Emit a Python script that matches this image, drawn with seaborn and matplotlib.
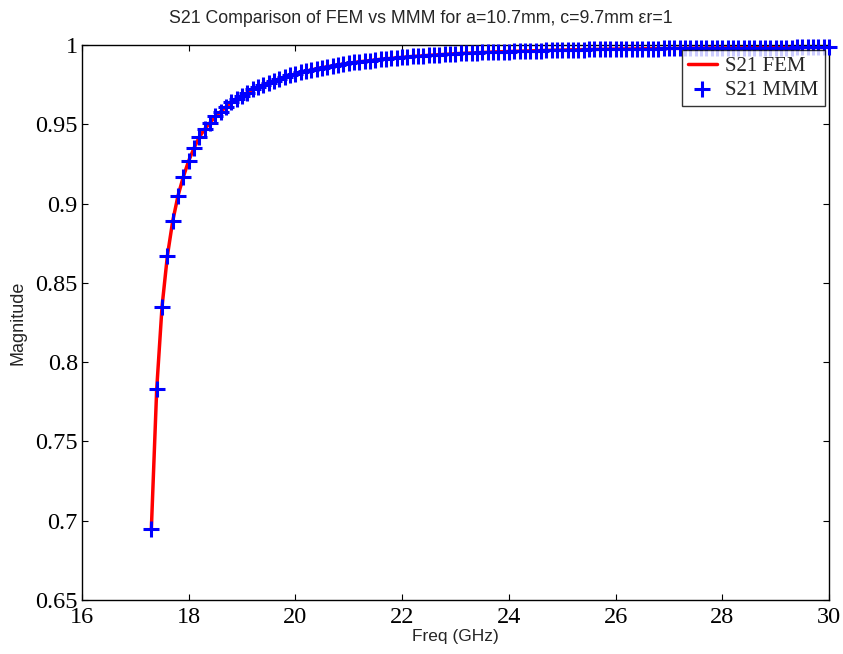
import numpy as np
import pandas as pd
import matplotlib
matplotlib.use("Agg")
import matplotlib.pyplot as plt
import seaborn as sns

# Frequency points (GHz), 17.3 .. 30.0 step 0.1
freq = [round(17.3 + 0.1 * i, 1) for i in range(128)]

# S21 magnitude
s21 = [
    0.695, 0.783, 0.835, 0.867, 0.889, 0.905, 0.917, 0.927, 0.935, 0.942,
    0.947, 0.951, 0.955, 0.958, 0.961, 0.964, 0.966, 0.968, 0.970, 0.972,
    0.9735, 0.975, 0.9763, 0.9775, 0.9787, 0.9798, 0.9808, 0.9818, 0.9827, 0.9835,
    0.9843, 0.9850, 0.9857, 0.9863, 0.9869, 0.9875, 0.9880, 0.9885, 0.9890, 0.9894,
    0.9898, 0.9902, 0.9906, 0.9910, 0.9913, 0.9916, 0.9919, 0.9922, 0.9925, 0.9928,
    0.9930, 0.9932, 0.9935, 0.9937, 0.9939, 0.9941, 0.9943, 0.9945, 0.9947, 0.9948,
    0.9950, 0.9951, 0.9953, 0.9954, 0.9956, 0.9957, 0.9958, 0.9959, 0.9960, 0.9961,
    0.9962, 0.9963, 0.9964, 0.9965, 0.9966, 0.9967, 0.9968, 0.9968, 0.9969, 0.9970,
    0.9970, 0.9971, 0.9972, 0.9972, 0.9973, 0.9973, 0.9974, 0.9974, 0.9975, 0.9975,
    0.9975, 0.9976, 0.9976, 0.9977, 0.9977, 0.9977, 0.9978, 0.9978, 0.9979, 0.9979,
    0.9979, 0.9980, 0.9980, 0.9980, 0.9981, 0.9981, 0.9981, 0.9981, 0.9982, 0.9982,
    0.9982, 0.9982, 0.9983, 0.9983, 0.9983, 0.9983, 0.9984, 0.9984, 0.9984, 0.9984,
    0.9984, 0.9985, 0.9985, 0.9985, 0.9985, 0.9985, 0.9985, 0.9985,
]

x_ticks = [16, 18, 20, 22, 24, 26, 28, 30]
y_ticks = [0.65, 0.7, 0.75, 0.8, 0.85, 0.9, 0.95, 1.0]
y_tick_labels = ["0.65", "0.7", "0.75", "0.8", "0.85", "0.9", "0.95", "1"]

title = "S21 Comparison of FEM vs MMM for a=10.7mm, c=9.7mm \u03b5r=1"

sns.set_theme(style="white")
plt.rcParams["font.family"] = ["Liberation Sans", "DejaVu Sans"]

df = pd.DataFrame({"freq": freq, "s21": s21})

fig = plt.figure(figsize=(8.43, 6.54), dpi=100)
ax = fig.add_axes([82 / 843, 1 - 600 / 654, (829 - 82) / 843, (600 - 45) / 654])

sns.lineplot(data=df, x="freq", y="s21", ax=ax, color="red", linewidth=2.5,
             label="S21 FEM", zorder=2)
sns.scatterplot(data=df, x="freq", y="s21", ax=ax, marker="+", color="blue",
                s=135, linewidth=2.2, label="S21 MMM", zorder=3, clip_on=False)

ax.set_xlim(16, 30)
ax.set_ylim(0.65, 1.0)
ax.set_xticks(x_ticks)
ax.set_xticklabels([str(t) for t in x_ticks], family="Liberation Serif", fontsize=17.5)
ax.set_yticks(y_ticks)
ax.set_yticklabels(y_tick_labels, family="Liberation Serif", fontsize=17.5)
ax.tick_params(direction="in", length=4, width=0.8, top=True, right=True,
               bottom=True, left=True, colors="black")
ax.tick_params(axis="x", pad=5)
ax.tick_params(axis="y", pad=3)
for sp in ax.spines.values():
    sp.set_visible(True)
    sp.set_color("black")
    sp.set_linewidth(1.0)

ax.set_xlabel("Freq (GHz)", fontsize=12.5, labelpad=1)
ax.set_ylabel("Magnitude", fontsize=13, labelpad=6)
ax.set_title(title, fontsize=12.8, pad=16, x=0.454)
ax.grid(False)

leg = ax.legend(loc="upper right", bbox_to_anchor=(0.9945, 0.991), frameon=True,
                fancybox=False, prop={"family": "Liberation Serif", "size": 15},
                handlelength=1.4, borderpad=0.3, labelspacing=0.2,
                handletextpad=0.4, borderaxespad=0.0)
leg.get_frame().set_edgecolor("black")
leg.get_frame().set_linewidth(1.0)

fig.savefig("out.png", dpi=100, facecolor="white")
